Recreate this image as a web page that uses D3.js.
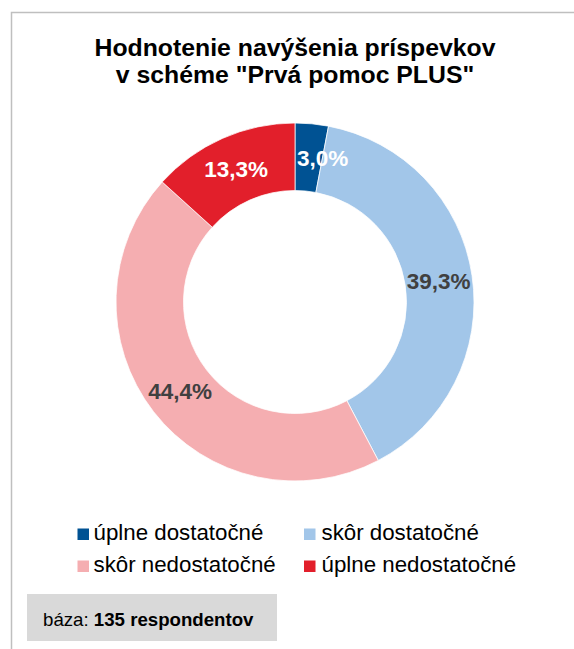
<!DOCTYPE html>
<html>
<head>
<meta charset="utf-8">
<script src="https://cdn.jsdelivr.net/npm/d3@7"></script>
<style>
  body { margin: 0; background: #fff; }
  text { font-family: "Liberation Sans", Arial, sans-serif; }
</style>
</head>
<body>
<div id="chart"></div>
<script>
var categories = ["úplne dostatočné", "skôr dostatočné", "skôr nedostatočné", "úplne nedostatočné"];
var values = [3.0, 39.3, 44.4, 13.3];
var colors = ["#005293", "#A2C6E9", "#F5AEB1", "#E21F2B"];
var labelColors = ["#ffffff", "#404040", "#404040", "#ffffff"];
var titleLines = ["Hodnotenie navýšenia príspevkov", "v schéme \"Prvá pomoc PLUS\""];
var baseLabel = "báza: ";
var baseValue = "135 respondentov";

var width = 574, height = 649;
var cx = 295, cy = 302;
var outerR = 179, innerR = 111.5;

var svg = d3.select("#chart").append("svg")
    .attr("width", width)
    .attr("height", height);

// frame (cut off on the right and bottom like the original)
svg.append("rect")
    .attr("x", 11.5).attr("y", 12.5)
    .attr("width", width + 20).attr("height", height + 20)
    .attr("fill", "#fff")
    .attr("stroke", "#BFBFBF")
    .attr("stroke-width", 1.5);

// title
svg.append("text")
    .attr("x", cx)
    .attr("y", 56)
    .attr("text-anchor", "middle")
    .style("font-size", "24.8px")
    .style("font-weight", 700)
    .attr("fill", "#000")
    .selectAll("tspan")
    .data(titleLines)
    .enter().append("tspan")
    .attr("x", cx)
    .attr("dy", (d, i) => i == 0 ? 0 : 27)
    .text(d => d);

// donut
var pie = d3.pie().sort(null).value(d => d);
var arc = d3.arc().innerRadius(innerR).outerRadius(outerR);
var arcs = pie(values);

var g = svg.append("g").attr("transform", "translate(" + cx + "," + cy + ")");

g.selectAll("path")
    .data(arcs)
    .enter().append("path")
    .attr("d", arc)
    .attr("fill", (d, i) => colors[i])
    .attr("stroke", "#fff")
    .attr("stroke-width", 0.75);

g.selectAll("text.lbl")
    .data(arcs)
    .enter().append("text")
    .attr("class", "lbl")
    .attr("x", d => arc.centroid(d)[0])
    .attr("y", d => arc.centroid(d)[1])
    .attr("dx", d => (d.endAngle - d.startAngle) < 0.3 ? "0.62em" : 0)
    .attr("dy", "0.36em")
    .attr("text-anchor", "middle")
    .style("font-size", "22.5px")
    .style("font-weight", 700)
    .attr("fill", (d, i) => labelColors[i])
    .text(d => d3.format(".1f")(d.data).replace(".", ",") + "%");

// legend
var legendX = [77.5, 304];
var legendY = [540, 572];
var legend = svg.append("g");
var items = legend.selectAll("g")
    .data(categories)
    .enter().append("g")
    .attr("transform", (d, i) => "translate(" + legendX[i % 2] + "," + legendY[Math.floor(i / 2)] + ")");

items.append("rect")
    .attr("x", 0).attr("y", -11.5)
    .attr("width", 11.5).attr("height", 11.5)
    .attr("fill", (d, i) => colors[i]);

items.append("text")
    .attr("x", (d, i) => i % 2 == 0 ? 16 : 17.5)
    .attr("y", 0)
    .style("font-size", "22.3px")
    .attr("fill", "#000")
    .text(d => d);

// base box
svg.append("rect")
    .attr("x", 27).attr("y", 594)
    .attr("width", 250).attr("height", 47)
    .attr("fill", "#D9D9D9");

var base = svg.append("text")
    .attr("x", 43)
    .attr("y", 626)
    .style("font-size", "18.67px")
    .attr("fill", "#000");
base.append("tspan").text(baseLabel);
base.append("tspan").style("font-weight", 700).text(baseValue);
</script>
</body>
</html>
